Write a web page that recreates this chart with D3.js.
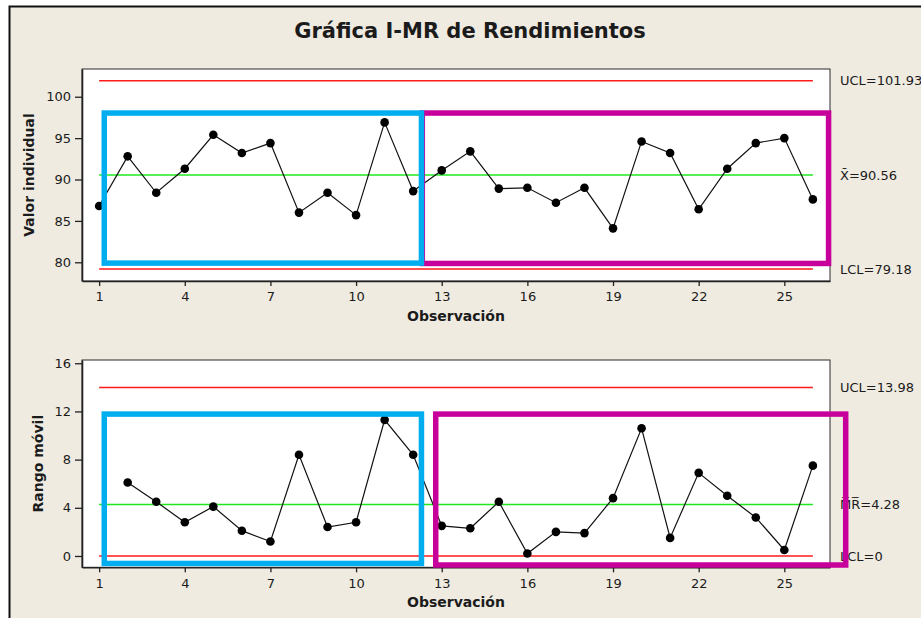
<!DOCTYPE html>
<html>
<head>
<meta charset="utf-8">
<script src="https://cdn.jsdelivr.net/npm/d3@7"></script>
<style>
  html, body { margin: 0; padding: 0; background: #ffffff; }
  svg { display: block; }
  text { font-family: "DejaVu Sans", "Liberation Sans", sans-serif; fill: #1b1b1b; }
</style>
</head>
<body>
<svg id="chart" width="921" height="618"></svg>
<script>
// ---- Data: yield per observation (I chart) and moving ranges (MR chart) ----
const observations = [1, 2, 3, 4, 5, 6, 7, 8, 9, 10, 11, 12, 13, 14, 15, 16, 17, 18, 19, 20, 21, 22, 23, 24, 25, 26];
const individualValues = [86.8, 92.8, 88.4, 91.3, 95.4, 93.2, 94.4, 86.0, 88.4, 85.7, 96.9, 88.6, 91.1,
                          93.4, 88.9, 89.0, 87.2, 89.0, 84.1, 94.6, 93.2, 86.4, 91.3, 94.4, 95.0, 87.6];
const movingRanges = [null, 6.1, 4.5, 2.8, 4.1, 2.1, 1.2, 8.4, 2.4, 2.8, 11.3, 8.4, 2.5,
                      2.3, 4.5, 0.2, 2.0, 1.9, 4.8, 10.6, 1.5, 6.9, 5.0, 3.2, 0.5, 7.5];

// Control limits
const individualLimits = [
  { key: "UCL", value: 101.93, label: "UCL=101.93", kind: "limit" },
  { key: "CL",  value: 90.56,  label: "X\u0304=90.56", kind: "center" },
  { key: "LCL", value: 79.18,  label: "LCL=79.18", kind: "limit" }
];
const rangeLimits = [
  { key: "UCL", value: 13.98, label: "UCL=13.98", kind: "limit" },
  { key: "CL",  value: 4.28,  label: "M\u0305R\u0305=4.28", kind: "center" },
  { key: "LCL", value: 0,     label: "LCL=0", kind: "limit" }
];

// Tick labels
const observationTicks = [1, 4, 7, 10, 13, 16, 19, 22, 25];
const individualTicks = [80, 85, 90, 95, 100];
const rangeTicks = [0, 4, 8, 12, 16];

// Highlighted groups of observations (in observation / value units)
const individualHighlights = [
  { group: "B", x0: 12.32, x1: 26.55, y0: 79.86, y1: 98.03 },
  { group: "A", x0: 1.18,  x1: 12.29, y0: 79.90, y1: 98.03 }
];
const rangeHighlights = [
  { group: "B", x0: 12.79, x1: 27.15, y0: -0.75, y1: 11.78 },
  { group: "A", x0: 1.18,  x1: 12.29, y0: -0.62, y1: 11.78 }
];

// ---- Styles ----
const groupColor = { A: "#00adef", B: "#c8009b" };
const limitColor = { limit: "#ff1a1a", center: "#1fe81f" };

const svg = d3.select("#chart");
const W = 921, H = 618;

// page background with frame on top/left
svg.append("rect").attr("x", 9.5).attr("y", 6.5).attr("width", W).attr("height", H)
  .attr("fill", "#efebe1");
svg.append("path").attr("d", `M${W},6.5 H9.5 V${H}`)
  .attr("fill", "none").attr("stroke", "#111").attr("stroke-width", 2);

svg.append("text")
  .attr("x", 470).attr("y", 37.5)
  .attr("text-anchor", "middle")
  .style("font-size", "21px").style("font-weight", "bold")
  .text("Gráfica I-MR de Rendimientos");

function drawPanel(cfg) {
  const { left, right, top, bottom } = cfg.frame;
  const x = d3.scaleLinear().domain([0.4, 26.6]).range([left, right]);
  const y = d3.scaleLinear().domain(cfg.yDomain).range([bottom, top]);
  const g = svg.append("g");

  // plot area
  g.append("rect").attr("x", left).attr("y", top)
    .attr("width", right - left).attr("height", bottom - top)
    .attr("fill", "#ffffff").attr("stroke", "#2a2a2a").attr("stroke-width", 1);

  // control lines
  g.selectAll(".limit").data(cfg.limits).join("line")
    .attr("x1", x(observations[0])).attr("x2", x(observations[observations.length - 1]))
    .attr("y1", d => y(d.value)).attr("y2", d => y(d.value))
    .attr("stroke", d => limitColor[d.kind]).attr("stroke-width", 1.5);

  // series
  const pts = observations.map((o, i) => ({ o, v: cfg.values[i] })).filter(d => d.v != null);
  g.append("path").datum(pts)
    .attr("fill", "none").attr("stroke", "#111").attr("stroke-width", 1.2)
    .attr("d", d3.line().x(d => x(d.o)).y(d => y(d.v)));
  g.selectAll(".pt").data(pts).join("circle")
    .attr("cx", d => x(d.o)).attr("cy", d => y(d.v)).attr("r", 4.3)
    .attr("fill", "#000");

  // limit labels
  g.selectAll(".lbl").data(cfg.limits).join("text")
    .attr("x", right + 10).attr("y", d => y(d.value)).attr("dy", "0.36em")
    .style("font-size", "13px")
    .text(d => d.label);

  // axes
  const yAxis = d3.axisLeft(y).tickValues(cfg.yTicks).tickSize(7).tickPadding(4).tickSizeOuter(0);
  const xAxis = d3.axisBottom(x).tickValues(observationTicks).tickSize(5).tickPadding(6).tickSizeOuter(0);
  const ya = g.append("g").attr("transform", `translate(${left},0)`).call(yAxis);
  const xa = g.append("g").attr("transform", `translate(0,${bottom})`).call(xAxis);
  [ya, xa].forEach(a => {
    a.select(".domain").attr("stroke", "#222").attr("stroke-width", 1.6);
    a.selectAll(".tick line").attr("stroke", "#222").attr("stroke-width", 1.3);
    a.selectAll(".tick text").style("font-size", "13px").style("font-family", "DejaVu Sans, sans-serif").attr("fill", "#1b1b1b");
  });

  // highlight boxes
  g.selectAll(".hl").data(cfg.highlights).join("rect")
    .attr("x", d => x(d.x0)).attr("y", d => y(d.y1))
    .attr("width", d => x(d.x1) - x(d.x0)).attr("height", d => y(d.y0) - y(d.y1))
    .attr("fill", "none").attr("stroke", d => groupColor[d.group]).attr("stroke-width", 5.5);

  // axis titles
  g.append("text")
    .attr("x", (left + right) / 2).attr("y", bottom + 40)
    .attr("text-anchor", "middle")
    .style("font-size", "14px").style("font-weight", "bold")
    .text("Observación");
  g.append("text")
    .attr("transform", `translate(${cfg.yTitleX},${(top + bottom) / 2}) rotate(-90)`)
    .attr("text-anchor", "middle").attr("dy", "0.35em")
    .style("font-size", "14px").style("font-weight", "bold")
    .text(cfg.yTitle);
}

drawPanel({
  frame: { left: 82, right: 830, top: 69, bottom: 281 },
  yDomain: [77.74, 103.35],
  values: individualValues,
  limits: individualLimits,
  yTicks: individualTicks,
  highlights: individualHighlights,
  yTitle: "Valor individual",
  yTitleX: 29
});

drawPanel({
  frame: { left: 82, right: 830, top: 360, bottom: 567.3 },
  yDomain: [-0.94, 16.27],
  values: movingRanges,
  limits: rangeLimits,
  yTicks: rangeTicks,
  highlights: rangeHighlights,
  yTitle: "Rango móvil",
  yTitleX: 38
});
</script>
</body>
</html>
